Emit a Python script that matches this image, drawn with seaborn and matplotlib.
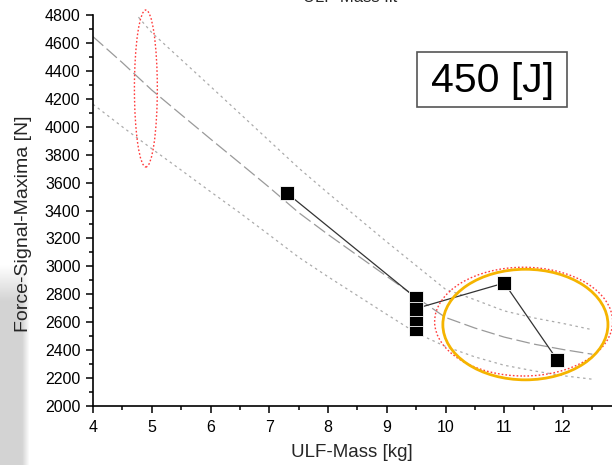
import numpy as np
import pandas as pd
import matplotlib
matplotlib.use("Agg")
import matplotlib.pyplot as plt
from matplotlib.patches import Ellipse, Rectangle
import seaborn as sns

# ---- data ----
mass = [7.3, 9.5, 9.5, 9.5, 9.5, 11.0, 11.9]
force = [3525, 2772, 2547, 2622, 2697, 2880, 2330]

fit_x = [4.0, 4.5, 5.0, 5.5, 6.0, 6.5, 7.0, 7.5, 8.0, 8.5, 9.0, 9.5,
         10.0, 10.5, 11.0, 11.5, 12.0, 12.5]
fit_mid = [4647, 4460, 4264, 4088, 3913, 3740, 3566, 3385, 3228, 3078, 2928, 2778,
           2633, 2557, 2492, 2442, 2403, 2369]
fit_upper = [5132, 4920, 4676, 4483, 4290, 4095, 3900, 3705, 3525, 3350, 3175, 3005,
             2835, 2760, 2680, 2630, 2590, 2545]
fit_lower = [4162, 4000, 3843, 3690, 3535, 3383, 3225, 3065, 2925, 2790, 2655, 2522,
             2425, 2350, 2290, 2250, 2215, 2190]

x_ticks = [4, 5, 6, 7, 8, 9, 10, 11, 12]
y_ticks = list(range(2000, 4801, 200))

energy_label = "450 [J]"
x_label = "ULF-Mass [kg]"
y_label = "Force-Signal-Maxima [N]"
title_text = "ULF-Mass fit"

# ---- style ----
sns.set_style("ticks")
plt.rcParams["font.family"] = ["Liberation Sans", "DejaVu Sans"]

fig = plt.figure(figsize=(6.12, 4.65), dpi=100)

# faint slide background at lower left
bg = fig.add_axes([0, 0, 30 / 612, 200 / 465], zorder=-5)
gy = np.linspace(0, 1, 200)[:, None]          # 0 = top row
gx = np.linspace(0, 1, 30)[None, :]
vert = np.clip(gy / 0.18, 0, 1)               # fade in from the top
horiz = np.clip((1 - gx) / 0.25, 0, 1)        # fade out at the right edge
grad = 1 - 0.17 * vert * horiz
bg.imshow(grad, cmap="gray", vmin=0, vmax=1, aspect="auto", origin="upper")
bg.axis("off")

ax = fig.add_axes([93 / 612, (465 - 405.7) / 465, (612 - 93) / 612, (405.7 - 15.3) / 465])
ax.set_facecolor("none")

fit_df = pd.DataFrame({"x": fit_x, "mid": fit_mid, "up": fit_upper, "lo": fit_lower})
sns.lineplot(data=fit_df, x="x", y="mid", ax=ax, color="#9a9a9a", lw=0.9,
             linestyle=(0, (11, 3.5)), sort=False, estimator=None, zorder=2)
sns.lineplot(data=fit_df, x="x", y="up", ax=ax, color="#ababab", lw=0.9,
             linestyle=(0, (2, 2.8)), sort=False, estimator=None, zorder=2)
sns.lineplot(data=fit_df, x="x", y="lo", ax=ax, color="#ababab", lw=0.9,
             linestyle=(0, (2, 2.8)), sort=False, estimator=None, zorder=2)

pts = pd.DataFrame({"m": mass, "f": force})
sns.lineplot(data=pts, x="m", y="f", ax=ax, color="#333333", lw=0.9,
             sort=False, estimator=None, zorder=3)
sns.scatterplot(data=pts, x="m", y="f", ax=ax, marker="s", s=95, color="black",
                edgecolor="white", linewidth=0.6, zorder=4)

# highlight ellipses
ax.add_patch(Ellipse((4.90, 4275), 0.39, 1126, fill=False, edgecolor="#ff3b3b",
                     linestyle=(0, (1.2, 1.5)), lw=1.0, clip_on=False, zorder=5))
ax.add_patch(Ellipse((11.33, 2603), 3.03, 780, fill=False, edgecolor="#ff3b3b",
                     linestyle=(0, (1.2, 1.5)), lw=1.0, clip_on=False, zorder=5))
ax.add_patch(Ellipse((11.36, 2582), 2.81, 793, fill=False, edgecolor="#f5b400",
                     lw=2.0, clip_on=False, zorder=5))

# energy box
ax.add_patch(Rectangle((9.52, 4140), 2.55, 395, fill=True, facecolor="white",
                       edgecolor="#555555", lw=1.2, zorder=6))
ax.text(10.80, 4330, energy_label, fontsize=29.5, ha="center", va="center",
        color="black", zorder=7)

# axes
ax.set_xlim(4, 4 + 519 / 58.75)
ax.set_ylim(2000, 4800)
ax.set_xticks(x_ticks)
ax.set_yticks(y_ticks)
ax.set_xticks(np.arange(4.5, 13, 1.0), minor=True)
ax.set_yticks(np.arange(2100, 4800, 200), minor=True)
ax.tick_params(axis="both", which="major", direction="out", length=5, width=1.1,
               colors="black", labelsize=11.5, pad=4)
ax.tick_params(axis="both", which="minor", direction="out", length=2.6, width=1.1,
               colors="black")
ax.tick_params(axis="x", which="major", pad=5.5)
for s in ["top", "right"]:
    ax.spines[s].set_visible(False)
for s in ["left", "bottom"]:
    ax.spines[s].set_linewidth(1.2)
    ax.spines[s].set_color("black")

ax.set_ylabel(y_label, fontsize=14)
ax.yaxis.set_label_coords((32 - 93) / 519, (405.7 - 223.5) / 390.4)

ax.set_xlabel(x_label, fontsize=13.5)
ax.xaxis.set_label_coords((352 - 93) / 519, (405.7 - 443.5) / 390.4)

fig.text(350 / 612, 1 - 2.5 / 465, title_text, ha="center", va="baseline", fontsize=12)

fig.savefig("out.png", dpi=100, facecolor="white")
